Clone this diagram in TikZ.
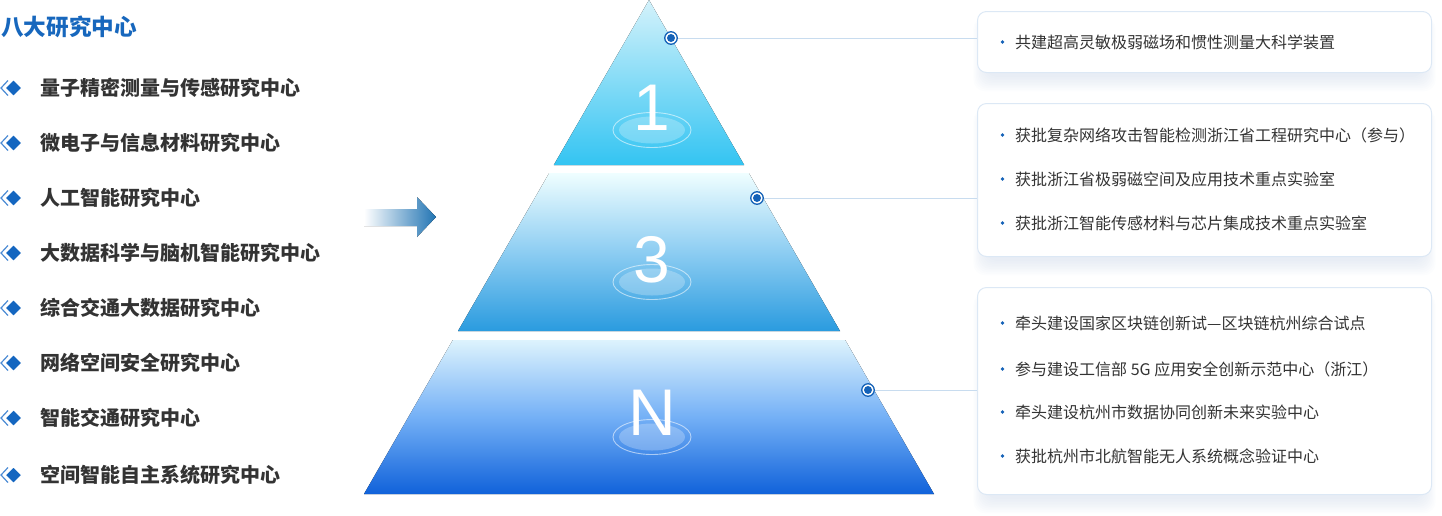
\documentclass[tikz,border=0pt]{standalone}
\usepackage{fontspec}
\setmainfont{Noto Sans CJK SC}
\newfontfamily\numfont{Liberation Sans}
\definecolor{titleblue}{HTML}{1767BD}
\definecolor{darktext}{HTML}{333333}
\definecolor{iconblue}{HTML}{1466C0}
\definecolor{iconlight}{HTML}{4A8AD4}
\definecolor{dotblue}{HTML}{1462B8}
\definecolor{connc}{HTML}{C8DCEF}
\definecolor{boxborder}{HTML}{DCE8F5}
\definecolor{shadowc}{HTML}{7F9CC6}
\definecolor{arrowblue}{HTML}{2174B3}
\definecolor{tAtop}{HTML}{D4F2FB}
\definecolor{tAbot}{HTML}{33C4F2}
\definecolor{tBtop}{HTML}{EFFEFF}
\definecolor{tBmid}{HTML}{8DCDF2}
\definecolor{tBbot}{HTML}{2A9BDF}
\definecolor{tCtop}{HTML}{DDF3FD}
\definecolor{tCmid}{HTML}{74B0F6}
\definecolor{tCbot}{HTML}{1062DA}
\pgfdeclarelayer{bg}
\pgfsetlayers{bg,main}
\begin{document}
\begin{tikzpicture}[x=1pt,y=-1pt,
  itemtext/.style={anchor=west, inner sep=0pt, text=darktext, font=\fontsize{20}{20}\selectfont\bfseries},
  boxtext/.style={anchor=west, inner sep=0pt, text=darktext, font=\fontsize{16}{16}\selectfont},
  infobox/.style={draw=boxborder, line width=1pt, fill=white, rounded corners=9pt, anchor=north west, inner sep=0pt},
  digit/.style={anchor=base, inner sep=0pt, text=white, font=\numfont\fontsize{66}{66}\selectfont},
  dotnode/.style={circle, draw=dotblue, fill=white, line width=1.3pt, minimum size=12.5pt, inner sep=0pt},
  conn/.style={draw=connc, line width=1pt},
  ring/.style={draw=white, draw opacity=0.55, line width=0.9pt},
  ringfill/.style={fill=white, fill opacity=0.25}
]
\useasboundingbox (0,0) rectangle (1442,515);

% ---- left list ----
\node[anchor=west, inner sep=0pt, text=titleblue, font=\fontsize{22.6}{23}\selectfont\bfseries] (title) at (1,27) {八大研究中心};

\foreach \yy/\txt [count=\k] in {88/量子精密测量与传感研究中心, 143/微电子与信息材料研究中心, 198/人工智能研究中心, 253/大数据科学与脑机智能研究中心, 308/综合交通大数据研究中心, 363/网络空间安全研究中心, 418/智能交通研究中心, 475/空间智能自主系统研究中心}{
  \draw[iconlight, line width=1.2pt, line join=miter] (8,\yy) +(0,-7.5) -- +(-7,0) -- +(0,7.5);
  \filldraw[fill=iconblue, draw=white, line width=1.4pt] (13.5,\yy) +(-8.5,0) -- +(0,-8.5) -- +(8.5,0) -- +(0,8.5) -- cycle;
  \node[itemtext] (item\k) at (40,\yy) {\txt};
}

% ---- arrow ----
\fill[left color=white, right color=arrowblue] (364,209) -- (417,209) -- (417,197) -- (436,217) -- (417,237) -- (417,226) -- (364,226) -- cycle;

% ---- pyramid ----
\fill[top color=tAtop, bottom color=tAbot] (649,0) -- (744.2,165) -- (553.8,165) -- cycle;
\fill[top color=tBtop, bottom color=tBbot, middle color=tBmid] (549.2,173) -- (748.8,173) -- (840,331) -- (458,331) -- cycle;
\fill[top color=tCtop, bottom color=tCbot, middle color=tCmid] (452.8,340) -- (845.2,340) -- (934,494) -- (364,494) -- cycle;

\foreach \ey in {130,282,437}{
  \fill[ringfill] (652,\ey) ellipse [x radius=33pt, y radius=13.5pt];
  \draw[ring] (652,\ey) ellipse [x radius=39pt, y radius=17.5pt];
}
\node[digit] (n1) at (652,130) {1};
\node[digit] (n3) at (652,282) {3};
\node[digit] (nN) at (652,435) {N};

% ---- dots ----
\node[dotnode] (d1) at (671,38) {};
\node[dotnode] (d2) at (757,198) {};
\node[dotnode] (d3) at (868,390) {};
\foreach \d in {d1,d2,d3}{\fill[dotblue] (\d.center) circle (4pt);}

% ---- boxes ----
\node[infobox, minimum width=454pt, minimum height=61pt] (b1) at (977,11) {};
\node[infobox, minimum width=454pt, minimum height=153pt] (b2) at (977,103) {};
\node[infobox, minimum width=454pt, minimum height=207pt] (b3) at (977,287) {};

\begin{pgfonlayer}{bg}
\foreach \b in {b1,b2,b3}{
  \foreach \i in {0,...,9}{
    \fill[shadowc, opacity=0.018, rounded corners=12pt]
      ([xshift={8pt-\i*1.3pt}, yshift={-6pt}]\b.north west) rectangle
      ([xshift={-8pt+\i*1.3pt}, yshift={-4pt-\i*1.6pt}]\b.south east);
  }
}
\end{pgfonlayer}

% connectors
\draw[conn] (d1) -- (d1 -| b1.west);
\draw[conn] (d2) -- (d2 -| b2.west);
\draw[conn] (d3) -- (d3 -| b3.west);

% box texts
\foreach \yy/\txt [count=\k] in {42/共建超高灵敏极弱磁场和惯性测量大科学装置,
  135/获批复杂网络攻击智能检测浙江省工程研究中心（参与）,
  179/获批浙江省极弱磁空间及应用技术重点实验室,
  223/获批浙江智能传感材料与芯片集成技术重点实验室,
  323/牵头建设国家区块链创新试—区块链杭州综合试点,
  369/参与建设工信部 5G 应用安全创新示范中心（浙江）,
  412/牵头建设杭州市数据协同创新未来实验中心,
  456/获批杭州市北航智能无人系统概念验证中心}{
  \fill[dotblue] (1002.5,\yy) circle (1.8pt);
  \node[boxtext] (t\k) at (1015,\yy) {\txt};
}
\end{tikzpicture}
\end{document}
